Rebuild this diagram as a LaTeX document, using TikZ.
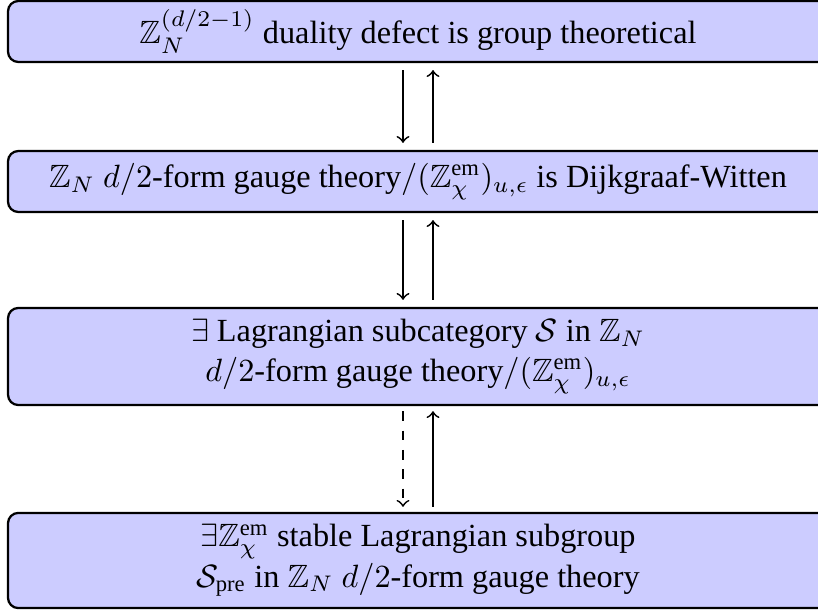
\documentclass[tikz,border=0pt]{standalone}
\usepackage{amsmath,amssymb}
\usepackage{fontspec}
\setmainfont{Liberation Serif}
\usetikzlibrary{calc}
\begin{document}
\begin{tikzpicture}[x=0.31pt,y=-0.31pt,
  box/.style={draw=black,line width=0.7pt,fill=blue!20,rounded corners=3.2pt,
    minimum width=254.2pt,align=center,inner sep=0pt,font=\fontsize{10}{12.5}\selectfont},
  arr/.style={->,line width=0.55pt}]
\useasboundingbox (0,0) rectangle (818,611);
\node[box,minimum height=18.9pt] (b1) at (418,31.5) {$\mathbb{Z}_N^{(d/2-1)}$ duality defect is group theoretical};
\node[box,minimum height=18.9pt] (b2) at (418,181.5) {$\mathbb{Z}_N$ $d/2$-form gauge theory$/(\mathbb{Z}_\chi^{\text{em}})_{u,\epsilon}$ is Dijkgraaf-Witten};
\node[box,minimum height=30.1pt] (b3) at (418,356.5) {$\exists$ Lagrangian subcategory $\mathcal{S}$ in $\mathbb{Z}_N$\\ $d/2$-form gauge theory$/(\mathbb{Z}_\chi^{\text{em}})_{u,\epsilon}$};
\node[box,minimum height=29.5pt] (b4) at (418,560.5) {$\exists\mathbb{Z}_\chi^{\text{em}}$ stable Lagrangian subgroup\\ $\mathcal{S}_{\text{pre}}$ in $\mathbb{Z}_N$ $d/2$-form gauge theory};
\draw[arr] ($(b1.south)+(-15,7)$) -- ($(b2.north)+(-15,-7)$);
\draw[arr] ($(b2.north)+(15,-7)$) -- ($(b1.south)+(15,7)$);
\draw[arr] ($(b2.south)+(-15,7)$) -- ($(b3.north)+(-15,-7)$);
\draw[arr] ($(b3.north)+(15,-7)$) -- ($(b2.south)+(15,7)$);
\draw[arr,dashed] ($(b3.south)+(-15,5)$) -- ($(b4.north)+(-15,-5)$);
\draw[arr] ($(b4.north)+(15,-5)$) -- ($(b3.south)+(15,5)$);
\end{tikzpicture}
\end{document}
